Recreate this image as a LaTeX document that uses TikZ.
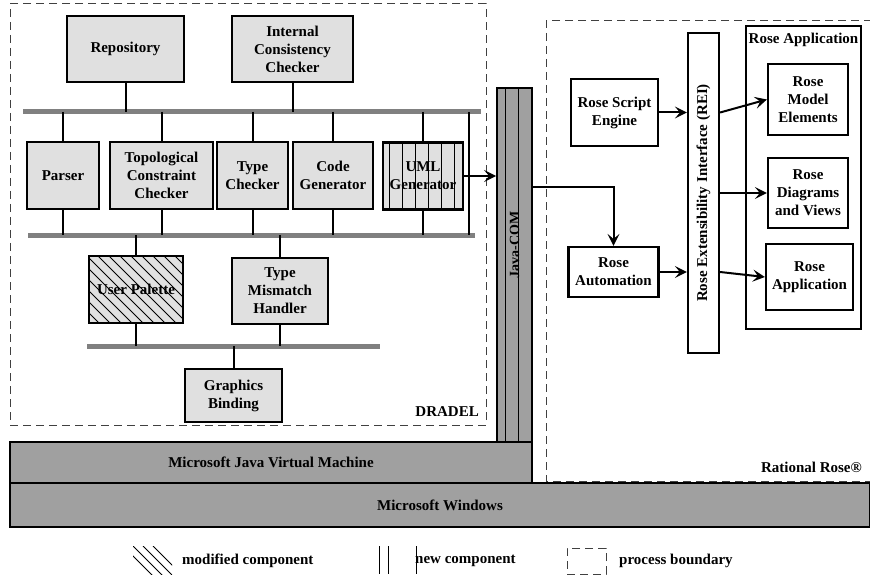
\documentclass[tikz,border=0pt]{standalone}
\usepackage{fontspec}
\setmainfont{Liberation Serif}
\usetikzlibrary{arrows.meta,calc}
\definecolor{boxgray}{HTML}{E0E0E0}
\definecolor{layergray}{HTML}{A0A0A0}
\definecolor{busgray}{HTML}{808080}
\begin{document}
\begin{tikzpicture}[x=1pt,y=-1pt,
  every node/.style={font=\fontsize{15}{18}\selectfont\bfseries},
  comp/.style={draw, line width=2.2pt, fill=boxgray, align=center, inner sep=0pt},
  rosebox/.style={draw, line width=2.2pt, fill=white, align=center, inner sep=0pt},
  layer/.style={draw, line width=1.8pt, fill=layergray, inner sep=0pt},
  bus/.style={line width=5pt, busgray},
  link/.style={line width=2pt},
  arr/.style={line width=2pt, -{Stealth[length=12pt,width=12pt,inset=5pt]}},
  boundary/.style={dash pattern=on 8pt off 5pt, line width=1pt, black!75},
  thinline/.style={line width=0.8pt, black},
]
\useasboundingbox (0,0) rectangle (870,575);

% process boundaries
\node[boundary, draw, inner sep=0pt, minimum width=476pt, minimum height=421pt] (dradel) at (248,214.5) {};
\coordinate (rrA) at (872,21);
\coordinate (rrB) at (546,481);
\coordinate (rrC) at (872,481);
\draw[boundary] (rrA) -| (rrB) -- (rrC);
\node[anchor=base east, inner sep=0pt] (dradellbl) at (479,416) {DRADEL};
\node[anchor=base east, inner sep=0pt] (rrlbl) at (862,472) {Rational Rose®};

% buses
\coordinate (b1L) at (23,112);  \coordinate (b1R) at (481,112);
\coordinate (b2L) at (28,235);  \coordinate (b2R) at (475,235);
\coordinate (b3L) at (87,346);  \coordinate (b3R) at (380,346);
\coordinate (lk) at (469,112);
\draw[bus] (b1L) -- (b1R);
\draw[bus] (b2L) -- (b2R);
\draw[bus] (b3L) -- (b3R);

% DRADEL components
\node[comp, minimum width=117pt, minimum height=66pt] (repo) at (125.5,49) {Repository};
\node[comp, minimum width=121pt, minimum height=66pt] (icc) at (292.5,49) {Internal\\Consistency\\Checker};
\node[comp, minimum width=72pt, minimum height=67pt] (parser) at (63,175.5) {Parser};
\node[comp, minimum width=103pt, minimum height=67pt] (topo) at (161.5,175.5) {Topological\\Constraint\\Checker};
\node[comp, minimum width=71pt, minimum height=67pt] (typec) at (252.5,175.5) {Type\\Checker};
\node[comp, minimum width=80pt, minimum height=67pt] (codeg) at (333,175.5) {Code\\Generator};
\node[comp, minimum width=80pt, minimum height=67pt,
  path picture={\foreach \i in {6,19,...,75} \draw[thinline] ($(path picture bounding box.north west)+(\i,0)$) -- ++(0,80);}]
  (uml) at (423,176) {UML\\Generator};
\node[comp, minimum width=94pt, minimum height=67pt,
  path picture={\foreach \i in {-90,-79,...,100} \draw[thinline] ($(path picture bounding box.north west)+(\i,0)$) -- ++(80,80);}]
  (userp) at (136,289.5) {User Palette};
\node[comp, minimum width=96pt, minimum height=66pt] (tmh) at (280,291) {Type\\Mismatch\\Handler};
\node[comp, minimum width=97pt, minimum height=53pt] (gb) at (233.5,395.5) {Graphics\\Binding};

% connectors to buses
\foreach \n in {repo,icc} \draw[link] (\n.south) -- (\n.south |- b1L);
\foreach \n in {parser,topo,typec,codeg,uml} {
  \draw[link] (\n.north |- b1L) -- (\n.north);
  \draw[link] (\n.south) -- (\n.south |- b2L);
}
\draw[link] (lk) -- (lk |- b2L);
\foreach \n in {userp,tmh} {
  \draw[link] (\n.north |- b2L) -- (\n.north);
  \draw[link] (\n.south) -- (\n.south |- b3L);
}
\draw[link] (gb.north |- b3L) -- (gb.north);

% layers
\node[layer, minimum width=522pt, minimum height=41pt] (jvm) at (271,462.5) {Microsoft Java Virtual Machine};
\node[layer, minimum width=860pt, minimum height=44pt] (win) at (440,505) {Microsoft Windows};
\node[layer, minimum width=35pt, minimum height=354pt,
  path picture={\foreach \i in {8,21} \draw[thinline] ($(path picture bounding box.north west)+(\i,0)$) -- ++(0,360);}]
  (javacom) at (514.5,265) {};
\node[rotate=90, inner sep=0pt] (jclbl) at (514.5,245) {\fontsize{14}{16}\selectfont Java-COM};

% Rational Rose side
\node[rosebox, minimum width=87pt, minimum height=67pt] (rse) at (614.5,112.5) {Rose Script\\Engine};
\node[rosebox, minimum width=90pt, minimum height=50pt] (rauto) at (613.5,272) {Rose\\Automation};
\node[rosebox, minimum width=31pt, minimum height=320pt] (rei) at (703.5,193) {};
\node[rotate=90, inner sep=0pt] (reilbl) at (703.5,193) {Rose Extensibility Interface (REI)};
\node[rosebox, minimum width=115pt, minimum height=303pt] (rapp) at (803.5,177.5) {};
\node[anchor=north, inner sep=0pt] (rapplbl) at ($(rapp.north)+(0,8)$) {Rose Application};
\node[rosebox, minimum width=80pt, minimum height=71pt] (rme) at (808,99.5) {Rose\\Model\\Elements};
\node[rosebox, minimum width=80pt, minimum height=70pt] (rdv) at (808,193) {Rose\\Diagrams\\and Views};
\node[rosebox, minimum width=87pt, minimum height=66pt] (rapp2) at (809.5,277) {Rose\\Application};

% arrows
\draw[arr] (uml.east) -- (uml.east -| javacom.west);
\draw[arr] ($(javacom.north east)+(0,100)$) -| (rauto.north);
\draw[arr] (rse.east) -- (rse.east -| rei.west);
\draw[arr] (rauto.east) -- (rauto.east -| rei.west);
\draw[arr] (rse.east -| rei.east) -- (rme.west);
\draw[arr] (rdv.west -| rei.east) -- (rdv.west);
\draw[arr] (rauto.east -| rei.east) -- (rapp2.west);

% legend
\coordinate (hA) at (133,546); \coordinate (hB) at (172,574);
\begin{scope}
\clip (hA) rectangle (hB);
\foreach \i in {-10,0,10,20} \draw[thinline] ($(hA)+(\i,0)$) -- ++(30,30);
\end{scope}
\node[anchor=west, inner sep=0pt] (lg1) at (182,561) {modified component};
\coordinate (nA) at (379,546);
\foreach \i in {0,9,37} \draw[thinline] ($(nA)+(\i,0)$) -- ++(0,28);
\node[anchor=west, inner sep=0pt] (lg2) at (415,561) {new component};
\node[boundary, draw, inner sep=0pt, minimum width=39pt, minimum height=26pt] (pbx) at (586.5,561) {};
\node[anchor=west, inner sep=0pt] (lg3) at (619,561) {process boundary};
\end{tikzpicture}
\end{document}
